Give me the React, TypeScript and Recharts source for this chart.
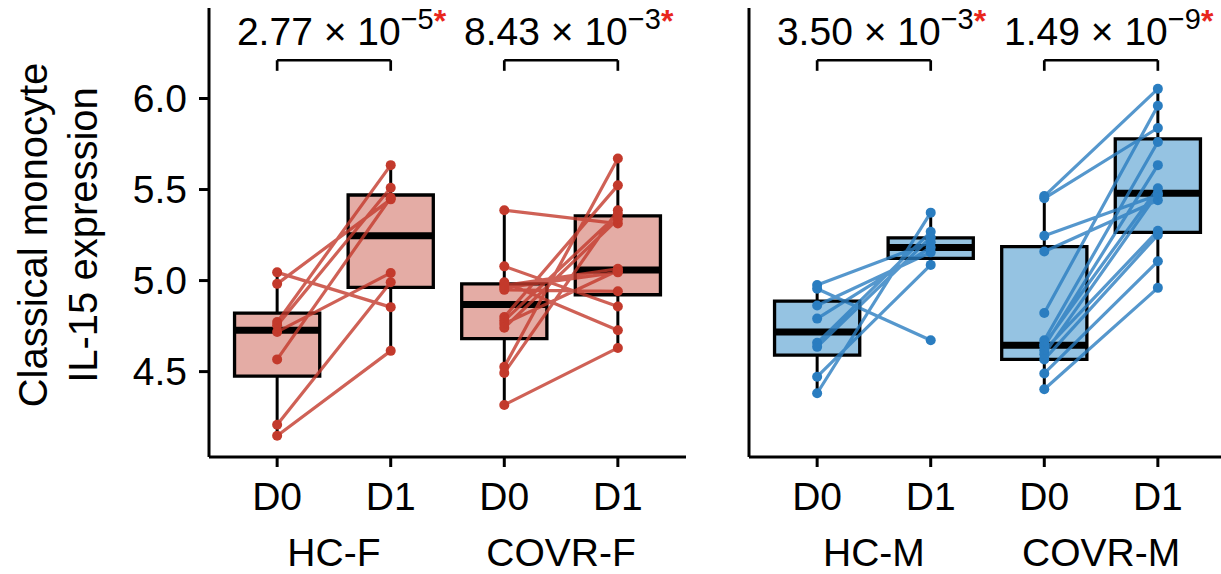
import React from "react";
import {
  ComposedChart,
  XAxis,
  YAxis,
  Line,
  ReferenceArea,
  ReferenceLine,
  Label,
} from "recharts";

const groups = ["HC-F", "COVR-F", "HC-M", "COVR-M"];
const days = ["D0", "D1"];

// paired samples: index i of D0 belongs to index i of D1
const hcfD0 = [5.045, 4.982, 4.772, 4.754, 4.718, 4.567, 4.208, 4.148];
const hcfD1 = [4.854, 5.446, 5.634, 5.51, 5.042, 5.455, 4.991, 4.614];
const covrfD0 = [5.386, 5.078, 4.991, 4.973, 4.96, 4.949, 4.8, 4.78, 4.763, 4.741, 4.526, 4.493, 4.317];
const covrfD1 = [5.313, 4.858, 4.727, 5.065, 5.045, 4.941, 5.523, 5.364, 5.055, 5.337, 5.67, 5.386, 4.63];
const hcmD0 = [4.976, 4.955, 4.863, 4.791, 4.658, 4.636, 4.472, 4.381];
const hcmD1 = [5.21, 4.672, 5.155, 5.182, 5.268, 5.237, 5.086, 5.373];
const covrmD0 = [5.464, 5.452, 5.246, 5.16, 4.822, 4.672, 4.65, 4.639, 4.617, 4.596, 4.567, 4.49, 4.403];
const covrmD1 = [6.053, 5.838, 5.47, 5.441, 5.96, 5.761, 5.507, 5.634, 5.273, 5.48, 5.251, 5.106, 4.96];

// box summaries, order: HC-F D0, HC-F D1, COVR-F D0, COVR-F D1, HC-M D0, HC-M D1, COVR-M D0, COVR-M D1
const boxLow = [4.148, 4.614, 4.317, 4.63, 4.381, 5.086, 4.403, 4.96];
const boxQ1 = [4.475, 4.963, 4.681, 4.922, 4.59, 5.122, 4.567, 5.265];
const boxMed = [4.727, 5.246, 4.869, 5.058, 4.718, 5.182, 4.645, 5.479];
const boxQ3 = [4.821, 5.47, 4.982, 5.355, 4.887, 5.235, 5.186, 5.778];
const boxHigh = [5.045, 5.634, 5.386, 5.67, 4.976, 5.373, 5.464, 6.053];

// paired test p-values per group
const pMantissa = ["2.77", "8.43", "3.50", "1.49"];
const pExponent = ["\u22125", "\u22123", "\u22123", "\u22129"];

const yTicks = [4.5, 5.0, 5.5, 6.0];
const xTicks = [1, 2, 3, 4];

const FONT = "'Liberation Sans', Arial, Helvetica, sans-serif";
const FS = 39;
const Y_DOMAIN: [number, number] = [4.031, 6.497];
const X_DOMAIN: [number, number] = [0.4, 4.6];
const BOX_HALF = 0.375;
const BRACKET_Y = 6.21;
const BRACKET_TIP = 6.152;
const SW = 3;

const panels = [
  { color: "#c33a2c", fill: "#e4aca5", pairs: [[hcfD0, hcfD1], [covrfD0, covrfD1]] },
  { color: "#2a7dc0", fill: "#95c3e2", pairs: [[hcmD0, hcmD1], [covrmD0, covrmD1]] },
];

function pairData(d0: number[], d1: number[], x0: number) {
  const out: { x: number; y: number | null }[] = [];
  d0.forEach((v, i) => {
    out.push({ x: x0, y: v }, { x: x0 + 1, y: d1[i] }, { x: x0 + 1, y: null });
  });
  return out;
}

function PLabel(props: any, g: number) {
  const vb = props.viewBox || {};
  const cx = vb.x + vb.width / 2;
  return (
    <text x={cx - 97} y={vb.y - 15} fontSize={FS} fontFamily={FONT} fill="#000">
      {pMantissa[g]} {"\u00d7"} 10
      <tspan dy={-16} fontSize={29}>{pExponent[g]}</tspan>
      <tspan dy={3} fill="#e8261c" fontSize={32} fontWeight="bold">*</tspan>
    </text>
  );
}

function Panel({ idx, width, left, right, yWidth }: { idx: number; width: number; left: number; right: number; yWidth: number }) {
  const p = panels[idx];
  const axisLine = { stroke: "#000", strokeWidth: SW };
  const tickLine = { stroke: "#000", strokeWidth: SW };
  const tickStyle = { fontSize: FS, fill: "#000", fontFamily: FONT };

  const boxes = [0, 1, 2, 3].map((k) => {
    const b = idx * 4 + k;
    const x = k + 1;
    return (
      <React.Fragment key={`b${b}`}>
        <ReferenceLine segment={[{ x, y: boxLow[b] }, { x, y: boxQ1[b] }]} stroke="#000" strokeWidth={SW} />
        <ReferenceLine segment={[{ x, y: boxQ3[b] }, { x, y: boxHigh[b] }]} stroke="#000" strokeWidth={SW} />
        <ReferenceArea
          x1={x - BOX_HALF}
          x2={x + BOX_HALF}
          y1={boxQ1[b]}
          y2={boxQ3[b]}
          fill={p.fill}
          fillOpacity={1}
          stroke="#000"
          strokeWidth={3.3}
        />
        <ReferenceLine segment={[{ x: x - BOX_HALF, y: boxMed[b] }, { x: x + BOX_HALF, y: boxMed[b] }]} stroke="#000" strokeWidth={7} />
      </React.Fragment>
    );
  });

  const brackets = [0, 1].map((k) => {
    const g = idx * 2 + k;
    const a = k * 2 + 1;
    const b = a + 1;
    return (
      <React.Fragment key={`br${g}`}>
        <ReferenceLine segment={[{ x: a, y: BRACKET_Y }, { x: a, y: BRACKET_TIP }]} stroke="#000" strokeWidth={2.7} />
        <ReferenceLine segment={[{ x: b, y: BRACKET_Y }, { x: b, y: BRACKET_TIP }]} stroke="#000" strokeWidth={2.7} />
        <ReferenceLine segment={[{ x: a, y: BRACKET_Y }, { x: b, y: BRACKET_Y }]} stroke="#000" strokeWidth={2.7}>
          <Label content={(lp: any) => PLabel(lp, g)} />
        </ReferenceLine>
      </React.Fragment>
    );
  });

  return (
    <ComposedChart width={width} height={574} margin={{ top: 8, right, bottom: 0, left }}>
      <XAxis
        type="number"
        dataKey="x"
        domain={X_DOMAIN}
        allowDataOverflow
        ticks={xTicks}
        tickFormatter={(v: number) => days[(v - 1) % 2]}
        axisLine={axisLine}
        tickLine={tickLine}
        tickSize={10}
        tickMargin={15}
        tick={tickStyle}
        height={60}
        interval={0}
      />
      <XAxis
        xAxisId="grp"
        type="number"
        dataKey="x"
        domain={X_DOMAIN}
        allowDataOverflow
        ticks={[1.5, 3.5]}
        tickFormatter={(v: number) => groups[idx * 2 + (v < 2 ? 0 : 1)]}
        axisLine={false}
        tickLine={false}
        tickSize={0}
        tickMargin={21}
        tick={tickStyle}
        height={57}
        interval={0}
      />
      <YAxis
        type="number"
        domain={Y_DOMAIN}
        allowDataOverflow
        ticks={yTicks}
        tickFormatter={(v: number) => v.toFixed(1)}
        axisLine={axisLine}
        tickLine={tickLine}
        tickSize={10}
        tickMargin={12}
        tick={idx === 0 ? tickStyle : false}
        width={yWidth}
        interval={0}
      />
      {boxes}
      {brackets}
      {p.pairs.map(([d0, d1], k) => (
        <Line
          key={`l${k}`}
          data={pairData(d0, d1, k * 2 + 1)}
          dataKey="y"
          type="linear"
          stroke={p.color}
          strokeOpacity={0.8}
          strokeWidth={3.2}
          connectNulls={false}
          dot={{ r: 5, fill: p.color, stroke: "none", fillOpacity: 1, strokeOpacity: 0 }}
          activeDot={false}
          isAnimationActive={false}
          zIndex={700}
        />
      ))}
    </ComposedChart>
  );
}

export default function App() {
  return (
    <div style={{ position: "absolute", left: 0, top: 0, width: 1221, height: 574, overflow: "hidden", background: "#fff" }}>
      <div style={{ position: "absolute", left: 0, top: 0 }}>
        <Panel idx={0} width={700} left={129} right={14} yWidth={80} />
      </div>
      <div style={{ position: "absolute", left: 700, top: 0 }}>
        <Panel idx={1} width={530} left={29} right={4} yWidth={20} />
      </div>
      <svg style={{ position: "absolute", left: 0, top: 0 }} width={120} height={574}>
        <g transform="translate(47,235) rotate(-90)">
          <text textAnchor="middle" fontSize={40} fontFamily={FONT} fill="#000">Classical monocyte</text>
        </g>
        <g transform="translate(97,235) rotate(-90)">
          <text textAnchor="middle" fontSize={40} fontFamily={FONT} fill="#000">IL-15 expression</text>
        </g>
      </svg>
    </div>
  );
}
